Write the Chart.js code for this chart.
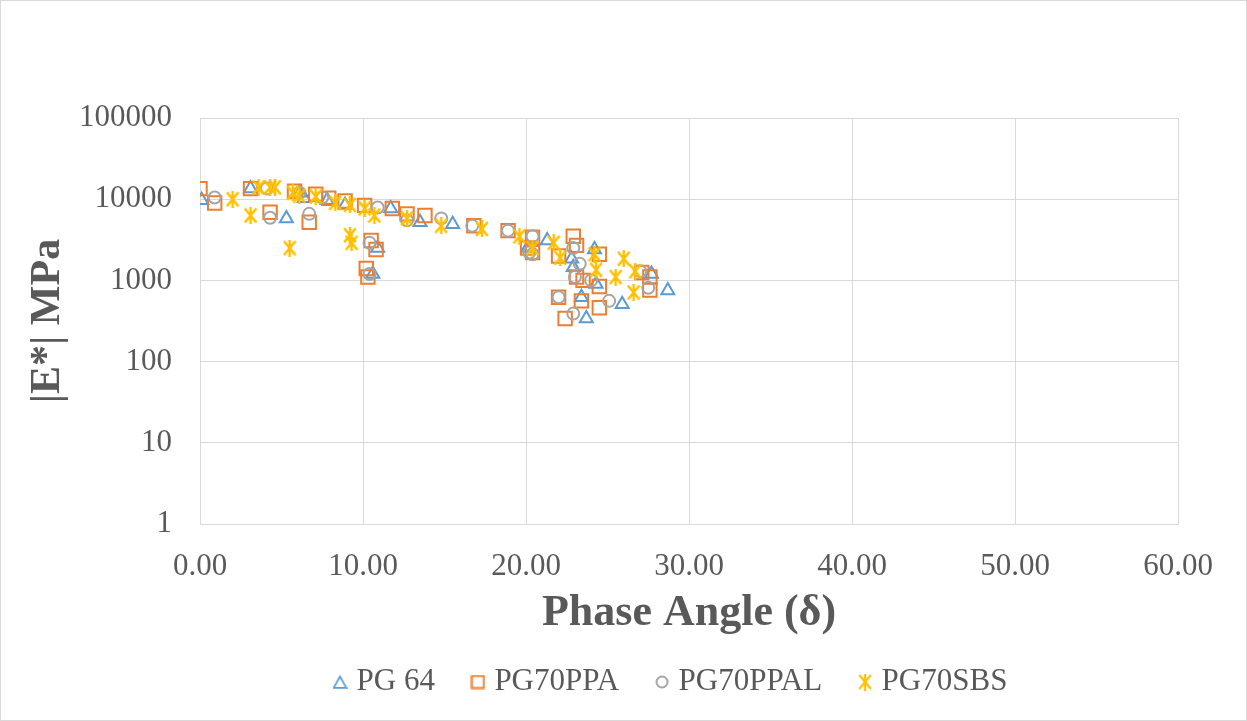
<!DOCTYPE html>
<html><head><meta charset="utf-8">
<script src="https://cdn.jsdelivr.net/npm/chart.js@4/dist/chart.umd.min.js"></script>
<style>html,body{margin:0;padding:0;background:#fff}canvas{display:block}</style>
</head><body>
<canvas id="c" width="1247" height="721"></canvas>
<script>
const seriesNames = ['PG 64', 'PG70PPA', 'PG70PPAL', 'PG70SBS'];

const pg64X = [0.1, 3.1, 5.3, 6.1, 6.4, 7.8, 8.9, 10.6, 10.9, 11.7, 13.5, 15.5, 20.1, 21.3, 22.8, 22.9, 23.4, 23.7, 24.3, 24.2, 25.9, 27.7, 28.7];
const pg64Y = [9700, 13500, 5800, 12000, 10300, 9700, 8500, 1200, 2500, 7700, 5200, 4900, 2500, 3100, 1850, 1450, 620, 340, 900, 2400, 510, 1200, 750];

const ppaX = [0.0, 0.9, 3.1, 4.3, 6.7, 5.8, 7.1, 7.9, 8.9, 10.1, 10.2, 10.3, 10.5, 10.8, 11.8, 12.7, 13.8, 16.8, 18.9, 20.4, 20.1, 20.4, 22.0, 22.9, 23.1, 24.5, 23.1, 23.5, 24.5, 22.0, 23.4, 24.5, 22.4, 27.1, 27.6, 27.6];
const ppaY = [13500, 9000, 13500, 6900, 5200, 12500, 11500, 10300, 9500, 8400, 1400, 1100, 3100, 2400, 7700, 6600, 6300, 4700, 4100, 3400, 2500, 2200, 2000, 3500, 2700, 2100, 1100, 1000, 840, 620, 560, 460, 340, 1250, 1100, 760];

const ppalX = [0.9, 4.1, 4.3, 6.1, 6.7, 7.5, 10.4, 10.4, 10.9, 12.7, 14.8, 16.7, 18.9, 20.2, 20.4, 20.4, 22.9, 23.3, 23.0, 24.0, 22.0, 22.9, 25.1, 27.0, 27.5];
const ppalY = [10500, 13500, 5900, 12000, 6600, 10500, 2900, 1200, 7900, 5500, 5800, 4700, 4100, 2200, 3500, 2100, 2500, 1600, 1100, 1000, 620, 390, 560, 1300, 810];

const sbsX = [2.0, 3.1, 3.6, 4.3, 4.6, 5.5, 5.7, 6.1, 7.1, 8.3, 9.2, 9.2, 9.3, 10.1, 10.7, 12.7, 14.8, 17.3, 19.6, 20.4, 21.7, 22.1, 24.2, 24.3, 25.5, 26.0, 26.7, 26.6];
const sbsY = [10000, 6300, 14000, 14000, 14000, 2500, 12000, 11000, 10800, 9000, 8500, 3600, 2900, 7700, 6300, 5800, 4700, 4300, 3500, 2500, 2900, 1900, 2100, 1350, 1100, 1850, 1300, 710];

const xTickValues = [0, 10, 20, 30, 40, 50, 60];
const yTickValues = [1, 10, 100, 1000, 10000, 100000];
const xTitle = 'Phase Angle (δ)';
const yTitle = '|E*| MPa';

const toPts = (xs, ys) => xs.map((x, i) => ({ x: x, y: ys[i] }));

function marker(w, h, draw) {
  const c = document.createElement('canvas');
  c.width = w; c.height = h;
  const g = c.getContext('2d');
  draw(g);
  return c;
}
function starMarker(w, h, lw, color) {
  return marker(w, h, g => {
    g.strokeStyle = color; g.lineWidth = lw;
    g.beginPath();
    g.moveTo(1.2, 1.5); g.lineTo(w - 1.2, h - 1.5);
    g.moveTo(w - 1.2, 1.5); g.lineTo(1.2, h - 1.5);
    g.moveTo(w / 2, 0); g.lineTo(w / 2, h);
    g.stroke();
  });
}
const starChart = starMarker(14, 17, 2.5, '#FFC000');
const legendMarks = [
  marker(15, 14, g => { g.strokeStyle = '#5B9BD5'; g.lineWidth = 1.75; g.beginPath(); g.moveTo(7.5, 1.5); g.lineTo(13.8, 12.8); g.lineTo(1.2, 12.8); g.closePath(); g.stroke(); }),
  marker(15, 15, g => { g.strokeStyle = '#ED7D31'; g.lineWidth = 2; g.strokeRect(1.5, 1.5, 12, 12); }),
  marker(14, 14, g => { g.strokeStyle = '#A5A5A5'; g.lineWidth = 2; g.beginPath(); g.arc(7, 7, 5.5, 0, Math.PI * 2); g.stroke(); }),
  starMarker(14, 17, 2.2, '#FFC000')
];

const TXT = '#595959';
const FONT = "'Liberation Serif', 'Times New Roman', serif";
const GRID = '#D9D9D9';

const bgPlugin = {
  id: 'bg',
  beforeDraw(chart) {
    const c = chart.ctx; c.save(); c.fillStyle = '#fff'; c.fillRect(0, 0, chart.width, chart.height); c.restore();
  },
  afterDraw(chart) {
    const c = chart.ctx; c.save(); c.strokeStyle = GRID; c.lineWidth = 1;
    c.strokeRect(0.5, 0.5, chart.width - 1, chart.height - 1); c.restore();
  }
};
const LEGEND_START = 339;
const legendShift = {
  id: 'legendShift',
  afterLayout(chart) {
    const l = chart.legend;
    if (l && l.lineWidths) {
      const pad = l.options.labels.padding;
      l.right = chart.width;
      l.left = 2 * LEGEND_START + l.lineWidths[0] - pad - chart.width;
    }
  }
};

new Chart(document.getElementById('c'), {
  type: 'scatter',
  data: {
    datasets: [
      { label: seriesNames[0], data: toPts(pg64X, pg64Y), pointStyle: 'triangle', pointRadius: 7.5, pointHoverRadius: 7.5,
        borderColor: '#5B9BD5', backgroundColor: 'rgba(0,0,0,0)', borderWidth: 2, order: 3 },
      { label: seriesNames[1], data: toPts(ppaX, ppaY), pointStyle: 'rect', pointRadius: 9.5, pointHoverRadius: 9.5,
        borderColor: '#ED7D31', backgroundColor: 'rgba(0,0,0,0)', borderWidth: 2, order: 2 },
      { label: seriesNames[2], data: toPts(ppalX, ppalY), pointStyle: 'circle', pointRadius: 6, pointHoverRadius: 6,
        borderColor: '#A5A5A5', backgroundColor: 'rgba(0,0,0,0)', borderWidth: 2, order: 1 },
      { label: seriesNames[3], data: toPts(sbsX, sbsY), pointStyle: starChart, pointRadius: 8, pointHoverRadius: 8,
        borderColor: '#FFC000', backgroundColor: 'rgba(0,0,0,0)', borderWidth: 2, order: 0 }
    ]
  },
  options: {
    responsive: false,
    animation: false,
    events: [],
    layout: { padding: { top: 118, right: 69, left: 0, bottom: 13.5 } },
    scales: {
      x: {
        type: 'linear', min: 0, max: 60,
        afterBuildTicks: (s) => { s.ticks = xTickValues.map(v => ({ value: v })); },
        afterFit: (s) => { s.height = 100.5; },
        ticks: { color: TXT, font: { family: FONT, size: 31 }, padding: 24, callback: (v) => Number(v).toFixed(2), maxRotation: 0 },
        grid: { color: GRID, lineWidth: 1, drawTicks: false },
        border: { color: GRID },
        title: { display: true, text: xTitle, color: TXT, font: { family: FONT, size: 44, weight: 'bold', lineHeight: 0.48 }, padding: { top: 0, bottom: 0 } }
      },
      y: {
        type: 'logarithmic', min: 1, max: 100000,
        afterBuildTicks: (s) => { s.ticks = yTickValues.map(v => ({ value: v })); },
        afterFit: (s) => { s.width = 200; },
        ticks: { color: TXT, font: { family: FONT, size: 31 }, padding: 28, callback: (v) => String(v) },
        grid: { color: GRID, lineWidth: 1, drawTicks: false },
        border: { color: GRID },
        title: { display: true, text: yTitle, color: TXT, font: { family: FONT, size: 42, weight: 'bold', lineHeight: 1 }, padding: { top: 27, bottom: 0 } }
      }
    },
    plugins: {
      tooltip: { enabled: false },
      legend: {
        position: 'bottom',
        labels: {
          usePointStyle: true, boxWidth: 2, boxHeight: 10, padding: 42,
          color: TXT, font: { family: FONT, size: 31 },
          generateLabels(chart) {
            const items = Chart.defaults.plugins.legend.labels.generateLabels(chart);
            items.sort((a, b) => a.datasetIndex - b.datasetIndex);
            items.forEach(it => {
              it.fillStyle = 'rgba(0,0,0,0)';
              it.pointStyle = legendMarks[it.datasetIndex];
            });
            return items;
          }
        }
      }
    }
  },
  plugins: [bgPlugin, legendShift]
});
</script>
</body></html>
